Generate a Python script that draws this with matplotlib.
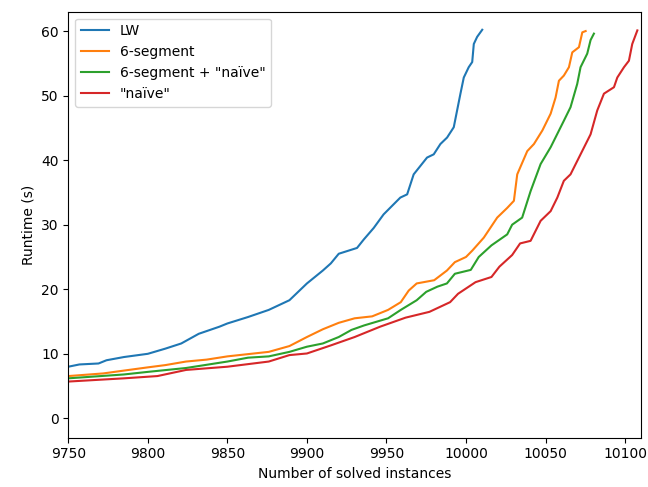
import matplotlib
matplotlib.use("Agg")
import matplotlib.pyplot as plt

# curvas (instancias resueltas vs tiempo)
lw_x = [9745, 9750, 9757, 9769, 9774, 9785, 9800, 9811, 9821, 9832, 9845, 9850, 9863, 9876, 9889,
        9900, 9910, 9915, 9920, 9931.5, 9935.7, 9942, 9948.2, 9958.7, 9963, 9967.1, 9975.5,
        9979.7, 9983.9, 9988.1, 9992.3, 9994.4, 9996.5, 9998.6, 10001.7, 10003.9, 10004.9,
        10007, 10010.2]
lw_y = [7.8, 8.0, 8.35, 8.5, 9.0, 9.5, 10.0, 10.8, 11.6, 13.1, 14.2, 14.7, 15.7, 16.8, 18.3,
        20.9, 22.9, 24.0, 25.5, 26.4, 27.7, 29.5, 31.6, 34.2, 34.7, 37.8, 40.4,
        40.9, 42.5, 43.5, 45.1, 47.7, 50.3, 52.8, 54.4, 55.2, 58.0,
        59.1, 60.2]

seg6_x = [9745, 9750, 9772, 9785, 9800, 9811, 9824, 9837, 9850, 9863, 9876, 9889, 9900, 9910,
          9920, 9930, 9941, 9951, 9959, 9964, 9969, 9980, 9988, 9993, 10000, 10004, 10011.2,
          10019.6, 10025.9, 10030.1, 10032.2, 10038.5, 10042.7, 10048, 10053.2, 10056.3,
          10058.4, 10061.5, 10064.7, 10066.8, 10071, 10073.1, 10075.2]
seg6_y = [6.4, 6.55, 6.96, 7.4, 7.9, 8.25, 8.8, 9.1, 9.6, 9.95, 10.3, 11.2, 12.6, 13.8,
          14.8, 15.5, 15.8, 16.8, 18.0, 19.8, 20.9, 21.4, 22.9, 24.2, 25.0, 26.0, 28.0,
          31.1, 32.6, 33.7, 37.8, 41.4, 42.5, 44.6, 47.2, 49.7,
          52.3, 53.1, 54.4, 56.7, 57.5, 59.8, 60.0]

seg6n_x = [9745, 9750, 9785, 9800, 9824, 9850, 9863, 9876, 9889, 9900, 9910, 9920, 9928, 9936,
           9951, 9959, 9969, 9975, 9982, 9988, 9993, 10003, 10008, 10016, 10025.9, 10029,
           10035.3, 10040.6, 10046.9, 10053.2, 10061.5, 10065.7, 10069.9, 10072, 10076.2,
           10078.3, 10080.4]
seg6n_y = [6.1, 6.2, 6.8, 7.2, 7.8, 8.8, 9.4, 9.6, 10.3, 11.1, 11.6, 12.6, 13.7, 14.4,
           15.5, 16.8, 18.3, 19.6, 20.4, 20.9, 22.4, 23.0, 25.0, 26.8, 28.5, 30.0,
           31.1, 35.2, 39.4, 42.0, 46.1, 48.2, 51.8, 54.4, 56.5,
           58.6, 59.6]

naive_x = [9745, 9750, 9785, 9806, 9824, 9850, 9876, 9889, 9900, 9915, 9930, 9946, 9962, 9977,
           9990, 9995, 10006, 10016, 10021, 10029, 10034, 10040.6, 10046.9, 10053.2, 10057.4,
           10061.5, 10065.7, 10072, 10078.3, 10082.5, 10086.7, 10093, 10095.1, 10099.3,
           10102.4, 10104.5, 10107.7]
naive_y = [5.6, 5.7, 6.2, 6.55, 7.5, 8.0, 8.8, 9.8, 10.05, 11.3, 12.6, 14.2, 15.6, 16.5,
           18.0, 19.3, 21.1, 21.9, 23.5, 25.3, 27.1, 27.5, 30.6, 32.1, 34.2,
           36.8, 37.8, 40.9, 44.0, 47.7, 50.3, 51.3, 52.8, 54.4,
           55.4, 58.0, 60.1]

fig = plt.figure(figsize=(6.48, 4.87), dpi=100)
ax = fig.add_axes([0.1054, 0.1012, 0.8838, 0.8748])

ax.plot(lw_x, lw_y, label='LW')
ax.plot(seg6_x, seg6_y, label='6-segment')
ax.plot(seg6n_x, seg6n_y, label='6-segment + "naïve"')
ax.plot(naive_x, naive_y, label='"naïve"')

ax.set_xlim(9750, 10110)
ax.set_ylim(-3, 63)
ax.set_xlabel("Number of solved instances")
ax.set_ylabel("Runtime (s)")
ax.legend(loc='upper left')

plt.savefig("out.png")
